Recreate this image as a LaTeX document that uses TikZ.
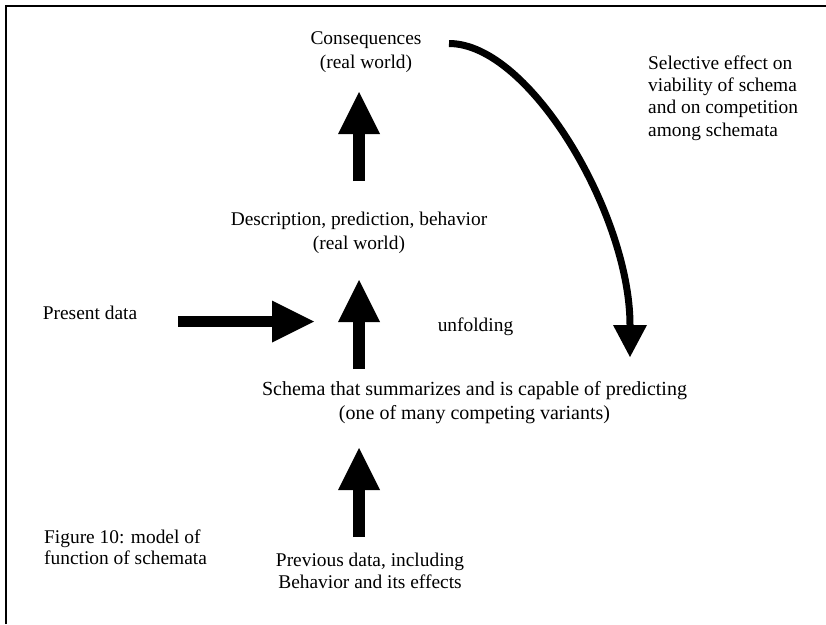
\documentclass[tikz,border=0pt]{standalone}
\usepackage{fontspec}
\setmainfont{Liberation Serif}
\usetikzlibrary{arrows.meta}
\tikzset{
  lbl/.style={inner sep=0pt, align=center, font=\fontsize{19.4}{23.5}\selectfont},
  lblleft/.style={inner sep=0pt, align=left, anchor=west, font=\fontsize{19.4}{22.3}\selectfont},
  blockarrow/.style={line width=11.5pt, -{Triangle[width=42pt,length=42pt,line width=0pt]}},
  curvearrow/.style={line width=7pt, -{Triangle[width=34pt,length=32pt,line width=0pt]}},
  frame/.style={line width=2pt}
}
\begin{document}
\begin{tikzpicture}[x=1pt,y=-1pt]
\useasboundingbox (0,0) rectangle (826,624);
\draw[frame] (6,624) -- (6,6) -- (826,6);

\node[lbl] (cons) at (366,52) {Consequences\\(real world)};
\node[lbl] (desc) at (359,233) {Description, prediction, behavior\\(real world)};
\node[lbl] (present) at (90,313) {Present data};
\node[lbl] (unfold) at (475.5,327) {unfolding};
\node[inner sep=0pt, align=center, font=\fontsize{20}{24}\selectfont] (schema) at (474.5,403) {Schema that summarizes and is capable of predicting\\(one of many competing variants)};
\node[lblleft, font=\fontsize{19.4}{21.5}\selectfont] (fig) at (44,547.5) {Figure 10: model of\\function of schemata};
\node[lbl, font=\fontsize{19.4}{22}\selectfont] (prev) at (370,571) {Previous data, including\\Behavior and its effects};
\node[lblleft] (sel) at (648,98) {Selective effect on\\viability of schema\\and on competition\\among schemata};

\coordinate (a1s) at (359,181);
\coordinate (a1e) at (359,92);
\coordinate (a2s) at (359,369);
\coordinate (a2e) at (359,280);
\coordinate (a3s) at (359,537);
\coordinate (a3e) at (359,448);
\coordinate (hs) at (178,321.5);
\coordinate (he) at (314,321.5);
\coordinate (cs) at (449,43.5);
\coordinate (ce) at (630,357);

\draw[blockarrow] (a1s) -- (a1e);
\draw[blockarrow] (a2s) -- (a2e);
\draw[blockarrow] (a3s) -- (a3e);
\draw[blockarrow] (hs) -- (he);
\draw[curvearrow] (cs) .. controls (530,43.5) and (630,215) .. (ce);
\end{tikzpicture}
\end{document}
